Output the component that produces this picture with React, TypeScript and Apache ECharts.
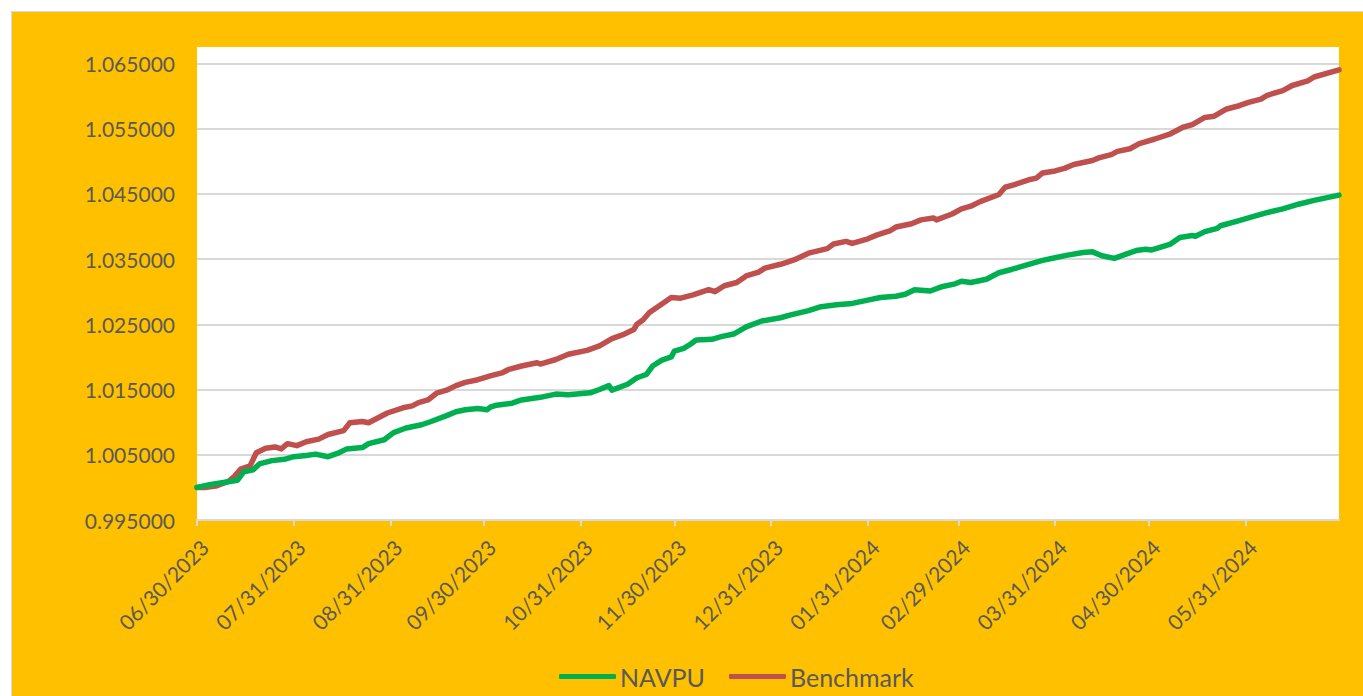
import React, { useEffect, useRef } from "react";
import * as echarts from "echarts";

const START_DAY = "2023-06-30";
const END_DAY = "2024-06-30";

const monthEndLabels = [
  "2023-06-30", "2023-07-31", "2023-08-31", "2023-09-30", "2023-10-31", "2023-11-30",
  "2023-12-31", "2024-01-31", "2024-02-29", "2024-03-31", "2024-04-30", "2024-05-31",
];

const yTicks = { min: 0.995, max: 1.0675, step: 0.01 };

const navpuPoints: [string, number][] = [
  ["2023-06-30", 1.0000], ["2023-07-04", 1.0004], ["2023-07-08", 1.0007], ["2023-07-13", 1.0011],
  ["2023-07-15", 1.0024], ["2023-07-18", 1.0027], ["2023-07-20", 1.0036], ["2023-07-24", 1.0041],
  ["2023-07-28", 1.0043], ["2023-07-31", 1.0047], ["2023-08-04", 1.0049], ["2023-08-07", 1.0051],
  ["2023-08-11", 1.0047], ["2023-08-14", 1.0052], ["2023-08-17", 1.0059], ["2023-08-22", 1.0061],
  ["2023-08-24", 1.0067], ["2023-08-29", 1.0073], ["2023-09-01", 1.0084], ["2023-09-05", 1.0091],
  ["2023-09-10", 1.0096], ["2023-09-13", 1.0101], ["2023-09-18", 1.0110], ["2023-09-21", 1.0116],
  ["2023-09-24", 1.0119], ["2023-09-28", 1.0121], ["2023-10-01", 1.0119], ["2023-10-02", 1.0123],
  ["2023-10-04", 1.0126], ["2023-10-09", 1.0129], ["2023-10-12", 1.0134], ["2023-10-18", 1.0138],
  ["2023-10-23", 1.0143], ["2023-10-27", 1.0142], ["2023-11-03", 1.0145], ["2023-11-06", 1.0150],
  ["2023-11-09", 1.0156], ["2023-11-10", 1.0149], ["2023-11-15", 1.0158], ["2023-11-18", 1.0168],
  ["2023-11-21", 1.0173], ["2023-11-23", 1.0186], ["2023-11-26", 1.0195], ["2023-11-29", 1.0200],
  ["2023-11-30", 1.0209], ["2023-12-03", 1.0213], ["2023-12-05", 1.0219], ["2023-12-07", 1.0226],
  ["2023-12-12", 1.0227], ["2023-12-15", 1.0231], ["2023-12-19", 1.0235], ["2023-12-23", 1.0246],
  ["2023-12-28", 1.0255], ["2024-01-03", 1.0260], ["2024-01-06", 1.0264], ["2024-01-12", 1.0271],
  ["2024-01-16", 1.0277], ["2024-01-21", 1.0280], ["2024-01-26", 1.0282], ["2024-01-31", 1.0287],
  ["2024-02-04", 1.0291], ["2024-02-09", 1.0293], ["2024-02-12", 1.0296], ["2024-02-15", 1.0303],
  ["2024-02-20", 1.0301], ["2024-02-24", 1.0308], ["2024-02-28", 1.0312], ["2024-03-01", 1.0316],
  ["2024-03-04", 1.0314], ["2024-03-09", 1.0319], ["2024-03-13", 1.0329], ["2024-03-17", 1.0334],
  ["2024-03-22", 1.0341], ["2024-03-27", 1.0348], ["2024-03-31", 1.0352], ["2024-04-04", 1.0356],
  ["2024-04-09", 1.0360], ["2024-04-12", 1.0361], ["2024-04-15", 1.0355], ["2024-04-19", 1.0351],
  ["2024-04-23", 1.0358], ["2024-04-26", 1.0363], ["2024-04-29", 1.0365], ["2024-05-01", 1.0364],
  ["2024-05-07", 1.0373], ["2024-05-10", 1.0383], ["2024-05-14", 1.0386], ["2024-05-15", 1.0385],
  ["2024-05-18", 1.0392], ["2024-05-22", 1.0397], ["2024-05-23", 1.0401], ["2024-05-29", 1.0409],
  ["2024-06-01", 1.0413], ["2024-06-06", 1.0420], ["2024-06-12", 1.0427], ["2024-06-17", 1.0434],
  ["2024-06-22", 1.0440], ["2024-06-30", 1.0448],
];

const benchmarkPoints: [string, number][] = [
  ["2023-06-30", 1.0000], ["2023-07-03", 1.0000], ["2023-07-06", 1.0002], ["2023-07-10", 1.0009],
  ["2023-07-12", 1.0017], ["2023-07-14", 1.0028], ["2023-07-17", 1.0033], ["2023-07-19", 1.0053],
  ["2023-07-22", 1.0060], ["2023-07-25", 1.0062], ["2023-07-27", 1.0059], ["2023-07-29", 1.0067],
  ["2023-08-01", 1.0064], ["2023-08-04", 1.0070], ["2023-08-08", 1.0074], ["2023-08-11", 1.0081],
  ["2023-08-16", 1.0087], ["2023-08-18", 1.0099], ["2023-08-22", 1.0101], ["2023-08-24", 1.0099],
  ["2023-08-30", 1.0114], ["2023-09-04", 1.0122], ["2023-09-07", 1.0125], ["2023-09-09", 1.0130],
  ["2023-09-12", 1.0134], ["2023-09-15", 1.0145], ["2023-09-18", 1.0149], ["2023-09-21", 1.0156],
  ["2023-09-24", 1.0161], ["2023-09-28", 1.0165], ["2023-10-02", 1.0171], ["2023-10-06", 1.0176],
  ["2023-10-08", 1.0181], ["2023-10-12", 1.0186], ["2023-10-17", 1.0191], ["2023-10-18", 1.0189],
  ["2023-10-23", 1.0196], ["2023-10-27", 1.0204], ["2023-11-02", 1.0210], ["2023-11-06", 1.0217],
  ["2023-11-10", 1.0228], ["2023-11-14", 1.0235], ["2023-11-17", 1.0242], ["2023-11-18", 1.0250],
  ["2023-11-20", 1.0257], ["2023-11-22", 1.0268], ["2023-11-26", 1.0281], ["2023-11-29", 1.0291],
  ["2023-12-02", 1.0290], ["2023-12-06", 1.0295], ["2023-12-11", 1.0303], ["2023-12-13", 1.0300],
  ["2023-12-16", 1.0309], ["2023-12-20", 1.0314], ["2023-12-23", 1.0324], ["2023-12-27", 1.0330],
  ["2023-12-29", 1.0336], ["2024-01-03", 1.0342], ["2024-01-05", 1.0345], ["2024-01-08", 1.0350],
  ["2024-01-12", 1.0359], ["2024-01-18", 1.0366], ["2024-01-20", 1.0373], ["2024-01-24", 1.0377],
  ["2024-01-26", 1.0374], ["2024-01-31", 1.0381], ["2024-02-03", 1.0387], ["2024-02-07", 1.0393],
  ["2024-02-09", 1.0399], ["2024-02-14", 1.0404], ["2024-02-17", 1.0410], ["2024-02-21", 1.0413],
  ["2024-02-22", 1.0410], ["2024-02-27", 1.0419], ["2024-03-01", 1.0427], ["2024-03-04", 1.0431],
  ["2024-03-07", 1.0438], ["2024-03-13", 1.0449], ["2024-03-15", 1.0460], ["2024-03-18", 1.0464],
  ["2024-03-23", 1.0472], ["2024-03-25", 1.0474], ["2024-03-27", 1.0482], ["2024-03-31", 1.0485],
  ["2024-04-03", 1.0489], ["2024-04-06", 1.0495], ["2024-04-12", 1.0501], ["2024-04-14", 1.0505],
  ["2024-04-18", 1.0510], ["2024-04-20", 1.0515], ["2024-04-24", 1.0519], ["2024-04-27", 1.0527],
  ["2024-05-02", 1.0534], ["2024-05-07", 1.0542], ["2024-05-11", 1.0552], ["2024-05-14", 1.0556],
  ["2024-05-18", 1.0567], ["2024-05-21", 1.0569], ["2024-05-25", 1.0580], ["2024-05-29", 1.0585],
  ["2024-06-01", 1.0590], ["2024-06-05", 1.0595], ["2024-06-07", 1.0601], ["2024-06-12", 1.0608],
  ["2024-06-15", 1.0616], ["2024-06-20", 1.0623], ["2024-06-22", 1.0629], ["2024-06-30", 1.0640],
];

const seriesNames = ["NAVPU", "Benchmark"];
const seriesColors = ["#00B050", "#C0504D"];

function buildDays(start: string, end: string): string[] {
  const out: string[] = [];
  let t = Date.parse(start + "T00:00:00Z");
  const e = Date.parse(end + "T00:00:00Z");
  while (t <= e) {
    out.push(new Date(t).toISOString().slice(0, 10));
    t += 86400000;
  }
  return out;
}

function fmtDate(iso: string): string {
  const [y, m, d] = iso.split("-");
  return `${m}/${d}/${y}`;
}

const FONT = "Lato";
const TEXT = "#595959";

export default function App() {
  const ref = useRef<HTMLDivElement>(null);

  useEffect(() => {
    document.body.style.margin = "0";
    if (!ref.current) return;
    const chart = echarts.init(ref.current, null, { renderer: "svg" });
    const days = buildDays(START_DAY, END_DAY);
    const labelSet = new Set(monthEndLabels);
    const showAt = (_i: number, v: string) => labelSet.has(v);

    chart.setOption({
      animation: false,
      backgroundColor: "transparent",
      grid: {
        left: 197,
        right: 24,
        top: 47,
        bottom: 176,
        show: true,
        backgroundColor: "#FFFFFF",
        borderWidth: 0,
      },
      legend: {
        left: 559,
        top: 664,
        padding: 0,
        icon: "roundRect",
        itemWidth: 57,
        itemHeight: 5,
        itemGap: 24,
        data: seriesNames,
        textStyle: {
          color: TEXT,
          fontFamily: FONT,
          fontSize: 25,
          padding: [0, 0, 0, -1],
        },
      },
      xAxis: {
        type: "category",
        data: days,
        boundaryGap: false,
        axisLine: { lineStyle: { color: "#D9D9D9", width: 2 } },
        axisTick: { show: true, interval: showAt, length: 6, lineStyle: { color: "#D9D9D9", width: 2 } },
        axisLabel: {
          interval: showAt,
          rotate: 45,
          verticalAlign: "top",
          margin: 16,
          color: TEXT,
          fontFamily: FONT,
          fontSize: 21,
          formatter: (v: string) => fmtDate(v),
        },
        splitLine: { show: false },
      },
      yAxis: {
        type: "value",
        min: yTicks.min,
        max: yTicks.max,
        interval: yTicks.step,
        axisLine: { show: false },
        axisTick: { show: false },
        axisLabel: {
          color: TEXT,
          fontFamily: FONT,
          fontSize: 21,
          margin: 22,
          showMaxLabel: false,
          formatter: (v: number) => (v > 1.066 ? "" : v.toFixed(6)),
        },
        splitLine: { show: true, showMaxLine: false, lineStyle: { color: "#D9D9D9", width: 2 } },
      },
      series: [
        {
          name: seriesNames[0],
          type: "line",
          data: navpuPoints,
          showSymbol: false,
          symbol: "none",
          color: seriesColors[0],
          lineStyle: { width: 5.5, color: seriesColors[0], cap: "round", join: "round" },
          z: 3,
        },
        {
          name: seriesNames[1],
          type: "line",
          data: benchmarkPoints,
          showSymbol: false,
          symbol: "none",
          color: seriesColors[1],
          lineStyle: { width: 5.5, color: seriesColors[1], cap: "round", join: "round" },
          z: 2,
        },
      ],
    });
    return () => chart.dispose();
  }, []);

  return (
    <div style={{ position: "relative", width: 1363, height: 696, background: "#FFFFFF", overflow: "hidden" }}>
      <div
        style={{
          position: "absolute",
          left: 11,
          top: 11,
          width: 1352,
          height: 685,
          boxSizing: "border-box",
          borderLeft: "1.5px solid #D9D9D9",
          borderTop: "1.5px solid #D9D9D9",
          background: "#FFC000",
        }}
      />
      <div ref={ref} style={{ position: "absolute", left: 0, top: 0, width: 1363, height: 696 }} />
    </div>
  );
}
